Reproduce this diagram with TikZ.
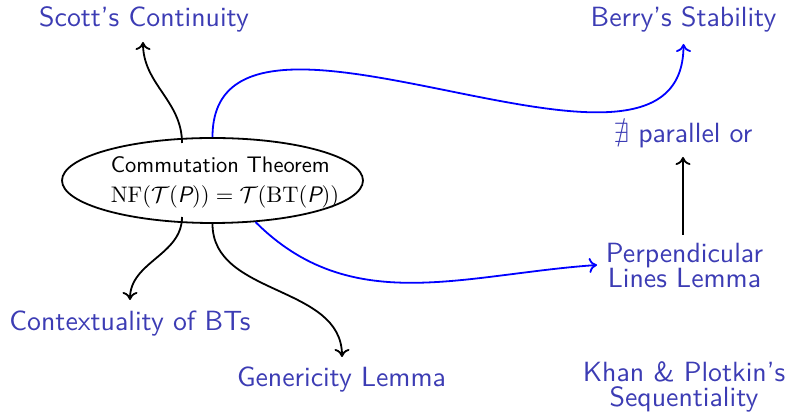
\documentclass[tikz,border=0pt]{standalone}
\usepackage{amssymb}
\usetikzlibrary{shapes.geometric,arrows.meta,calc}
\definecolor{labelblue}{RGB}{60,60,180}
\newcommand\sfP{\mbox{\sffamily\slshape P}}

\begin{document}
\begin{tikzpicture}[x=1pt,y=1pt,
  lbl/.style={text=labelblue, font=\fontsize{10}{9.1}\selectfont\sffamily, inner sep=0pt,
    align=center, anchor=base, scale=2.78, transform shape},
  conn/.style={line width=1.8pt, -{Computer Modern Rightarrow[length=8pt,width=15pt]}},
  bconn/.style={conn, blue}]
\useasboundingbox (0,0) rectangle (788,414);

% central theorem
\node[draw, ellipse, line width=1.8pt, minimum width=301pt, minimum height=85pt, inner sep=0pt] (e) at (212.5,233.5) {};
\node[font=\fontsize{10}{13}\selectfont\sffamily, align=left, inner sep=0pt, scale=2.25, transform shape] (etxt) at (225,231.5)
  {Commutation Theorem\\ $\mathrm{NF}(\mathcal{T}(\sfP)) = \mathcal{T}(\mathrm{BT}(\sfP))$};

% surrounding results (base = baseline of the last line)
\node[lbl] (scott) at (144,387) {Scott’s Continuity};
\node[lbl] (berry) at (683.5,387) {Berry’s Stability};
\node[lbl] (nex) at (683,271) {$\nexists$ parallel or};
\node[lbl] (perp) at (684.5,126) {Perpendicular\\Lines Lemma};
\node[lbl] (khan) at (684,7) {Khan \& Plotkin’s\\Sequentiality};
\node[lbl] (ctx) at (130,83) {Contextuality of BTs};
\node[lbl] (gen) at (341.5,27) {Genericity Lemma};

% connectors
\draw[conn] ($(e.center)+(-30.5,37.5)$) to[out=90,in=-90] ($(scott.base)+(-1,-15)$);
\draw[bconn] (e.north) to[out=90,in=-90] ($(berry.base)+(0,-17)$);
\draw[conn] ($(e.center)+(-30.5,-36.5)$) to[out=-90,in=90] ($(ctx.base)+(0,31)$);
\draw[conn] (e.south) to[out=-90,in=90] ($(gen.base)+(0.5,30)$);
\draw[bconn] (e.-44) to[out=-45,in=184] ($(perp.base)+(-87.5,23)$);
\draw[conn] ($(perp.base)+(-1.5,53)$) -- ($(nex.base)+(0,-14)$);
\end{tikzpicture}
\end{document}
